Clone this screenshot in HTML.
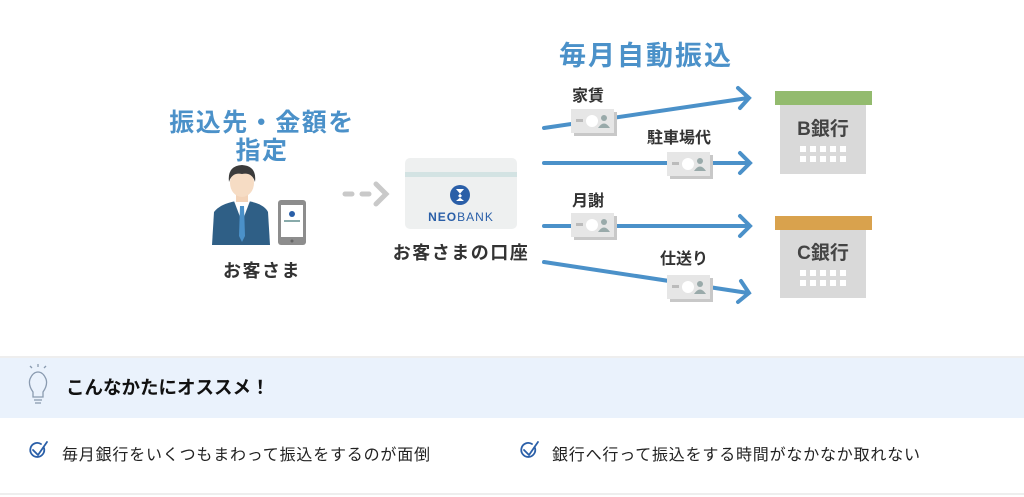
<!DOCTYPE html>
<html><head><meta charset="utf-8"><style>
body{margin:0;width:1024px;height:497px;background:#fff;overflow:hidden;font-family:"Liberation Sans","Noto Sans CJK JP",sans-serif;}
</style></head><body>
<svg width="1024" height="497" xmlns="http://www.w3.org/2000/svg" style="position:absolute;left:0;top:0" font-family="Liberation Sans, Noto Sans CJK JP, sans-serif">
<defs>
<g id="bill">
<rect x="3" y="3" width="43" height="24" fill="#c8c8c8"/>
<rect x="0" y="0" width="43" height="24" fill="#e6e6e6"/>
<rect x="5" y="10" width="7" height="3" fill="#bbb"/>
<circle cx="21" cy="12" r="6" fill="#fff"/>
<circle cx="33" cy="9" r="3" fill="#9aa"/>
<path d="M27 19 q6 -9 12 0z" fill="#9aa"/>
</g>
<g id="win" fill="#fff">
<rect x="0" y="0" width="6" height="6"/><rect x="10" y="0" width="6" height="6"/><rect x="20" y="0" width="6" height="6"/><rect x="30" y="0" width="6" height="6"/><rect x="40" y="0" width="6" height="6"/>
<rect x="0" y="10" width="6" height="6"/><rect x="10" y="10" width="6" height="6"/><rect x="20" y="10" width="6" height="6"/><rect x="30" y="10" width="6" height="6"/><rect x="40" y="10" width="6" height="6"/>
</g>
</defs>
<text x="262" y="131" font-size="25" font-weight="bold" fill="#4b91c9" text-anchor="middle" letter-spacing="1.5">振込先・金額を</text>
<text x="262" y="159" font-size="25" font-weight="bold" fill="#4b91c9" text-anchor="middle" letter-spacing="1.5">指定</text>
<!-- person -->
<path d="M212 245 L214 212 Q220 204 236 201 L248 201 Q264 204 268 212 L270 245Z" fill="#2f5f86"/>
<path d="M234 201 L242 222 L250 201Z" fill="#fff"/>
<path d="M240 206 L244 206 L245 236 L242 242 L239 236Z" fill="#4b91c9"/>
<rect x="236" y="190" width="12" height="12" fill="#f3d3b8"/>
<ellipse cx="242" cy="183" rx="12" ry="14" fill="#f6dcc4"/>
<path d="M229 182 Q227 166 242 165 Q257 166 255 182 Q252 172 242 174 Q232 172 229 182Z" fill="#3b3b3b"/>
<rect x="278" y="200" width="28" height="45" rx="3" fill="#8d8d8d"/>
<rect x="281" y="205" width="22" height="32" fill="#fff"/>
<circle cx="292" cy="214" r="3" fill="#2a5fa8"/>
<rect x="284" y="220" width="16" height="2" fill="#8aa"/>
<circle cx="292" cy="241" r="1.5" fill="#666"/>
<text x="262" y="277" font-size="18" font-weight="bold" fill="#333" text-anchor="middle" letter-spacing="1.5">お客さま</text>
<!-- dashed arrow -->
<g stroke="#c9c9c9" stroke-width="5" stroke-linecap="round" fill="none">
<line x1="345" y1="194" x2="352" y2="194"/><line x1="362" y1="194" x2="369" y2="194"/>
<path d="M376 184 L386 194 L376 204"/>
</g>
<!-- card -->
<rect x="405" y="158" width="112" height="71" rx="5" fill="#eef0f0"/>
<rect x="405" y="172" width="112" height="5" fill="#d3e3e3"/>
<circle cx="460" cy="195" r="10" fill="#2a5fa8"/>
<path d="M456 189 L464 189 L458 196 L464 201 L456 201 L462 196Z" fill="#fff"/>
<text x="461" y="221" font-size="12" fill="#2a5fa8" text-anchor="middle" letter-spacing="1"><tspan font-weight="bold">NEO</tspan>BANK</text>
<text x="461" y="259" font-size="18" font-weight="bold" fill="#333" text-anchor="middle" letter-spacing="1.5">お客さまの口座</text>
<text x="646" y="65" font-size="27" font-weight="bold" fill="#4b91c9" text-anchor="middle" letter-spacing="2">毎月自動振込</text>
<!-- lines -->
<g stroke="#4b91c9" stroke-width="4" stroke-linecap="round" fill="none">
<line x1="544" y1="128" x2="748" y2="98"/><path d="M738 88 L749 98 L740 108"/>
<line x1="544" y1="163" x2="748" y2="163"/><path d="M740 153 L750 163 L740 173"/>
<line x1="544" y1="226" x2="748" y2="226"/><path d="M740 216 L750 226 L740 236"/>
<line x1="544" y1="262" x2="748" y2="293"/><path d="M741 281 L749 293 L738 302"/>
</g>
<g font-size="16" font-weight="bold" fill="#333">
<text x="572" y="101">家賃</text>
<text x="647" y="143">駐車場代</text>
<text x="572" y="206">月謝</text>
<text x="660" y="264">仕送り</text>
</g>
<use href="#bill" x="571" y="109"/>
<use href="#bill" x="667" y="152"/>
<use href="#bill" x="571" y="213"/>
<use href="#bill" x="667" y="275"/>
<!-- banks -->
<rect x="780" y="104" width="86" height="70" fill="#d9d9d9"/>
<rect x="775" y="91" width="97" height="14" fill="#93bb6e"/>
<text x="823" y="135" font-size="19" font-weight="bold" fill="#444" text-anchor="middle">B銀行</text>
<use href="#win" x="800" y="146"/>
<rect x="780" y="229" width="86" height="69" fill="#d9d9d9"/>
<rect x="775" y="216" width="97" height="14" fill="#d9a24d"/>
<text x="823" y="259" font-size="19" font-weight="bold" fill="#444" text-anchor="middle">C銀行</text>
<use href="#win" x="800" y="270"/>
<!-- bottom -->
<rect x="0" y="356" width="1024" height="2" fill="#eeeeee"/>
<rect x="0" y="358" width="1024" height="60" fill="#eaf2fc"/>
<g stroke="#8a9bb0" stroke-width="1.3" fill="none">
<path d="M33 392 Q28 385 30 379 Q33 372 38 372 Q43 372 46 379 Q48 385 43 392 L43 397 L33 397Z"/>
<line x1="34" y1="400" x2="42" y2="400"/><line x1="35" y1="403" x2="41" y2="403"/>
<line x1="38" y1="364" x2="38" y2="367"/><line x1="30" y1="366" x2="32" y2="368"/><line x1="46" y1="366" x2="44" y2="368"/>
</g>
<text x="66" y="394" font-size="18.5" font-weight="bold" fill="#111">こんなかたにオススメ！</text>
<g stroke="#2a5fa8" stroke-width="1.8" fill="none" stroke-linecap="round">
<path d="M44 448 A7 7 0 1 1 41 444"/><path d="M33 450 L38 455 L47 442"/>
<path d="M535 448 A7 7 0 1 1 532 444"/><path d="M524 450 L529 455 L538 442"/>
</g>
<text x="62" y="460" font-size="16" fill="#222" letter-spacing="0.8">毎月銀行をいくつもまわって振込をするのが面倒</text>
<text x="552" y="460" font-size="16" fill="#222" letter-spacing="0.8">銀行へ行って振込をする時間がなかなか取れない</text>
<rect x="0" y="493" width="1024" height="2" fill="#eeeeee"/>
</svg>
</body></html>
